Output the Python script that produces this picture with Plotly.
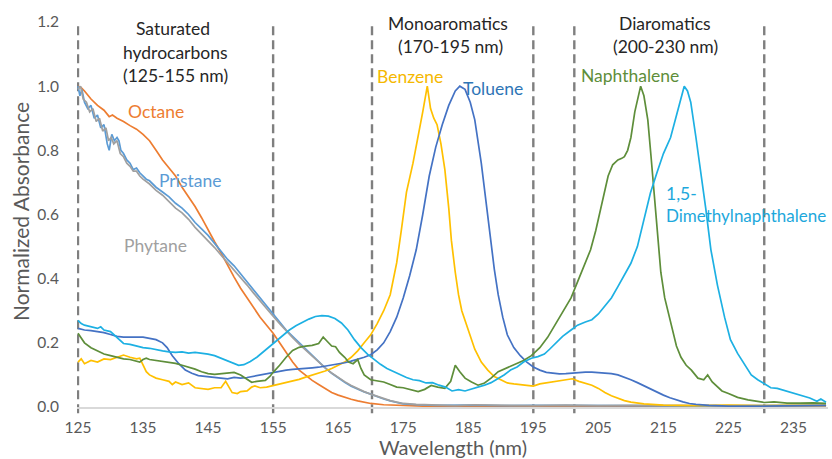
import plotly.graph_objects as go

# ---------------- data ----------------
octane_x = [125,125.5,126,127,128,129,129.8,130.3,131,132,133,134,135,136,137,138,139,140,141,142,143,144,145,146,147,148,149,150,151,152,153,154,155,156,157,158,159,160,161,162,163,164,165,166,167,168,169,170,172,174,176,178,180,185,190,200,210,220,230,240]
octane_y = [1.0,0.995,0.985,0.96,0.94,0.925,0.905,0.91,0.9,0.89,0.877,0.866,0.85,0.83,0.80,0.77,0.745,0.72,0.685,0.655,0.625,0.59,0.55,0.515,0.48,0.44,0.405,0.37,0.34,0.31,0.28,0.255,0.23,0.2,0.17,0.14,0.115,0.098,0.083,0.07,0.058,0.045,0.037,0.03,0.024,0.019,0.014,0.011,0.007,0.005,0.004,0.003,0.002,0.002,0.001,0.001,0.0,0.0,0.0,0.0]

pristane_x = [125,125.3,125.6,126,126.5,127,127.5,128,128.5,129,129.5,129.8,130.2,130.6,131,131.3,131.6,132,132.5,133,133.5,134,134.5,135,135.5,136,137,138,139,140,141,142,143,144,145,146,147,148,149,150,151,152,153,154,155,156,157,158,159,160,161,162,163,164,165,166,167,168,169,170,171,172,173,174,175,177,180,185,190,195,200,205,210,220,230,240]
pristane_y = [1.0,0.97,0.99,0.95,0.93,0.94,0.90,0.91,0.87,0.88,0.82,0.80,0.85,0.83,0.84,0.83,0.80,0.79,0.77,0.76,0.74,0.745,0.73,0.72,0.71,0.705,0.685,0.67,0.655,0.635,0.62,0.60,0.575,0.555,0.535,0.51,0.485,0.46,0.44,0.415,0.39,0.365,0.34,0.315,0.29,0.265,0.24,0.22,0.2,0.18,0.16,0.14,0.122,0.105,0.09,0.077,0.065,0.055,0.047,0.04,0.032,0.025,0.019,0.014,0.01,0.007,0.005,0.006,0.004,0.005,0.004,0.005,0.004,0.003,0.004,0.005]

phytane_x = [125,125.4,125.8,126.3,126.8,127.3,127.8,128.3,128.8,129.3,129.7,130.1,130.5,131,131.5,132,132.5,133,133.5,134,134.5,135,136,137,138,139,140,141,142,143,144,145,146,147,148,149,150,151,152,153,154,155,156,157,158,159,160,161,162,163,164,165,166,167,168,169,170,171,172,173,174,175,177,180,183,186,190,195,200,205,210,220,230,240]
phytane_y = [0.99,1.0,0.96,0.95,0.92,0.93,0.89,0.90,0.86,0.87,0.83,0.84,0.82,0.83,0.79,0.78,0.76,0.75,0.735,0.735,0.72,0.71,0.695,0.675,0.66,0.64,0.62,0.605,0.585,0.56,0.54,0.52,0.497,0.473,0.45,0.428,0.405,0.38,0.355,0.33,0.307,0.283,0.26,0.237,0.216,0.196,0.177,0.158,0.14,0.122,0.106,0.092,0.079,0.067,0.057,0.048,0.04,0.033,0.026,0.02,0.015,0.011,0.008,0.006,0.004,0.007,0.005,0.004,0.006,0.004,0.005,0.004,0.003,0.004]

benzene_x = [125,125.5,126,127,128,129,130,131,132,133,134,134.5,135,135.5,136,137,138,139,139.5,140,141,142,143,144,145,146,147,147.7,148.2,148.7,149.5,150,151,151.7,152.2,153,154,155,156,157,158,159,160,161,162,163,164,165,166,167,168,169,170,171,172,173,174,174.7,175.5,176.5,177.3,178,178.7,179.2,179.7,180.2,180.8,181.4,182,182.4,183,183.5,184,185,186,187,188,189,190,191,192,193,194,195,196,197,198,199,200,201,202,203,204,205,206,207,208,209,210,212,215,220,225,230,235,240]
benzene_y = [0.14,0.15,0.135,0.145,0.14,0.15,0.148,0.155,0.162,0.155,0.15,0.152,0.13,0.11,0.1,0.09,0.085,0.08,0.07,0.078,0.07,0.075,0.06,0.058,0.055,0.06,0.06,0.08,0.06,0.045,0.042,0.048,0.05,0.062,0.066,0.06,0.062,0.067,0.07,0.075,0.08,0.086,0.093,0.099,0.105,0.112,0.12,0.13,0.14,0.155,0.175,0.2,0.225,0.26,0.3,0.35,0.45,0.55,0.67,0.76,0.84,0.92,1.0,0.93,0.9,0.88,0.82,0.74,0.62,0.52,0.42,0.35,0.3,0.24,0.18,0.14,0.115,0.095,0.085,0.075,0.072,0.07,0.068,0.065,0.072,0.075,0.078,0.08,0.085,0.088,0.08,0.075,0.068,0.058,0.045,0.035,0.027,0.02,0.015,0.01,0.006,0.004,0.006,0.004,0.005,0.005]

toluene_x = [125,126,127,128,129,130,131,132,133,134,135,136,137,138,138.7,139.5,140.5,141.5,142.5,143.5,145,146,147,148,149,150,151,152,153,154,155,156,157,158,159,160,161,162,163,164,165,166,167,168,169,170,171,172,173,174,175,176,177,178,179,180,181,182,183,183.7,184.5,185.3,186,187,187.8,188.5,189,189.6,190.3,191,192,193,194,195,196,197,198,199,200,201,202,203,204,205,206,207,208,209,210,211,212,213,214,215,216,217,218,219,220,222,225,230,235,240]
toluene_y = [0.245,0.24,0.238,0.235,0.232,0.226,0.22,0.218,0.217,0.218,0.218,0.215,0.21,0.2,0.185,0.16,0.135,0.115,0.105,0.098,0.095,0.093,0.09,0.088,0.092,0.09,0.092,0.096,0.1,0.104,0.108,0.112,0.115,0.117,0.118,0.12,0.122,0.124,0.127,0.13,0.134,0.138,0.143,0.148,0.155,0.163,0.178,0.2,0.235,0.28,0.34,0.41,0.49,0.6,0.72,0.81,0.88,0.94,0.985,1.0,0.99,0.95,0.895,0.76,0.62,0.51,0.43,0.35,0.28,0.225,0.185,0.16,0.14,0.125,0.115,0.108,0.105,0.103,0.104,0.106,0.108,0.109,0.109,0.108,0.107,0.104,0.1,0.093,0.085,0.076,0.066,0.056,0.046,0.037,0.029,0.022,0.016,0.011,0.008,0.005,0.003,0.003,0.004,0.005]

naph_x = [125,125.5,126,127,128,129,130,131,132,133,134,134.5,135,135.5,136,137,138,139,140,141,142,143,144,145,146,147,148,149,150,151,151.7,152.5,153.8,154.5,155,156,157,158,159,160,161,162,162.7,163.3,164,164.6,165.2,166,166.6,167.3,168,168.5,169,170,171,172,173,174,175,176,177.3,178.3,179.3,180.3,181.4,182.3,183,183.7,184.5,185.5,186.5,187.5,188.5,189.6,190.5,191.5,192.6,193.5,194.7,196,197.2,198.5,199.7,200.8,202,202.9,203.8,204.6,205.5,206.5,207.2,208,208.6,209,209.5,210,210.6,211.5,212,212.6,213.1,213.6,214.1,214.6,215.2,216.2,217,217.7,218.5,219.3,220.3,221.2,221.8,222.5,223.3,224,225,226.4,228,229.5,230.5,232,234,236,238,240]
naph_y = [0.23,0.215,0.2,0.185,0.175,0.165,0.16,0.155,0.15,0.148,0.142,0.14,0.148,0.152,0.148,0.145,0.142,0.14,0.136,0.13,0.125,0.118,0.11,0.104,0.102,0.104,0.107,0.108,0.1,0.088,0.077,0.08,0.083,0.095,0.108,0.13,0.155,0.176,0.186,0.19,0.192,0.198,0.218,0.205,0.19,0.188,0.17,0.155,0.14,0.135,0.148,0.12,0.1,0.085,0.082,0.078,0.07,0.062,0.06,0.055,0.048,0.055,0.067,0.062,0.058,0.08,0.13,0.11,0.09,0.078,0.068,0.075,0.09,0.11,0.118,0.125,0.135,0.145,0.16,0.185,0.217,0.26,0.3,0.34,0.4,0.448,0.49,0.55,0.63,0.72,0.755,0.77,0.775,0.78,0.8,0.84,0.92,1.0,0.97,0.895,0.78,0.655,0.52,0.42,0.34,0.26,0.19,0.155,0.13,0.115,0.09,0.085,0.1,0.078,0.062,0.05,0.042,0.03,0.022,0.017,0.014,0.016,0.012,0.012,0.013,0.011]

dmn_x = [125,125.5,126,127,128,128.5,129,130,130.5,131,132,133,134,135,136,137,138,139,140,141,142,143,144,145,146,147,148,149,149.7,150.5,151.5,152.5,153.5,154.5,155.5,156.5,157.5,158.5,159.5,160.5,161.5,162.5,163.5,164.5,165.5,166.5,167.5,168.5,169.5,170.5,171.5,172.5,173.5,174.5,175.5,176.5,177.5,178.5,179.5,180.5,181.5,182.5,183.5,184.5,185.5,186.5,187.5,188.5,189.5,190.5,191.5,192.5,193.5,194.7,195.7,196.7,197.5,198.5,199.5,200.8,201.8,203,204,205,206,207,208,209,210,211,212,213,214,215,216.1,217,217.7,218.2,218.7,219.2,220,220.7,221.5,222.3,223.3,224.4,225.3,226.4,227.5,228.5,229.5,230.5,231.5,232.5,233.5,234.5,235.6,236.5,237.5,238.6,239.2,240]
dmn_y = [0.27,0.26,0.255,0.25,0.245,0.25,0.24,0.235,0.225,0.215,0.198,0.195,0.19,0.185,0.183,0.178,0.175,0.172,0.17,0.172,0.168,0.17,0.168,0.165,0.16,0.152,0.143,0.135,0.13,0.132,0.142,0.155,0.172,0.19,0.207,0.225,0.24,0.253,0.264,0.274,0.282,0.285,0.283,0.276,0.262,0.24,0.21,0.185,0.165,0.148,0.133,0.12,0.11,0.1,0.092,0.085,0.082,0.075,0.076,0.068,0.062,0.05,0.054,0.05,0.056,0.06,0.068,0.076,0.088,0.1,0.115,0.125,0.14,0.152,0.157,0.165,0.18,0.2,0.22,0.24,0.255,0.265,0.272,0.29,0.315,0.34,0.375,0.41,0.448,0.5,0.58,0.667,0.73,0.79,0.84,0.91,0.97,1.0,0.985,0.95,0.84,0.74,0.62,0.49,0.38,0.28,0.21,0.167,0.13,0.1,0.085,0.072,0.06,0.058,0.052,0.048,0.04,0.036,0.028,0.018,0.025,0.015]

series = [
    ("Octane", octane_x, octane_y, "#ED7D31"),
    ("Pristane", pristane_x, pristane_y, "#5B9BD5"),
    ("Phytane", phytane_x, phytane_y, "#A0A0A0"),
    ("Benzene", benzene_x, benzene_y, "#FFC000"),
    ("Toluene", toluene_x, toluene_y, "#4472C4"),
    ("Naphthalene", naph_x, naph_y, "#5E8E3A"),
    ("1,5-Dimethylnaphthalene", dmn_x, dmn_y, "#1DB0E3"),
]

region_bounds = [125, 155, 170.2, 195, 201.3, 230.5]
x_ticks = [125, 135, 145, 155, 165, 175, 185, 195, 205, 215, 225, 235]
y_ticks = [0.0, 0.2, 0.4, 0.6, 0.8, 1.0, 1.2]

FONT = "Lato"
TXT = "#262626"
AX = "#595959"

fig = go.Figure()
for name, xs, ys, col in series:
    fig.add_trace(go.Scatter(x=xs, y=ys, mode="lines", name=name,
                             line=dict(color=col, width=1.7), hoverinfo="skip"))

for b in region_bounds:
    fig.add_shape(type="line", xref="x", yref="paper", x0=b, x1=b, y0=-0.016, y1=1.0,
                  line=dict(color="#7F7F7F", width=2.4, dash="9px,5px"), layer="below")

# pixel helper: plot area spans x 77..828, y 22..407
L, R, T, B = 77, 828, 22, 407
def px(xp): return (xp - L) / (R - L)
def py(yp): return (B - yp) / (B - T)

def ann(text, x, y, color=TXT, size=17.5, xanchor="center", angle=0):
    fig.add_annotation(text=text, xref="paper", yref="paper",
                       x=px(x), y=py(y), showarrow=False, xanchor=xanchor, yanchor="middle",
                       textangle=angle,
                       font=dict(family=FONT, size=size, color=color))

ann("Saturated", 173, 28)
ann("hydrocarbons", 175, 52)
ann("(125-155 nm)", 175, 75)
ann("Monoaromatics", 448, 23)
ann("(170-195 nm)", 450, 46)
ann("Diaromatics", 665, 23)
ann("(200-230 nm)", 665, 46)

ann("Octane", 156, 112, "#ED7D31")
ann("Pristane", 190, 180, "#5B9BD5")
ann("Phytane", 155, 245, "#A0A0A0")
ann("Benzene", 410, 76, "#F5B800")
ann("Toluene", 493, 89, "#2E75B6")
ann("Naphthalene", 630, 75, "#5E8E3A")
ann("1,5-", 664, 193, "#1DA8DC", xanchor="left")
ann("Dimethylnaphthalene", 664, 215, "#1DA8DC", xanchor="left", size=17)

# axis titles
ann("Wavelength (nm)", 453, 447, AX, size=20)
ann("Normalized Absorbance", 20, 212, AX, size=21, angle=-90)

fig.update_layout(
    width=832, height=459,
    margin=dict(l=L, r=832 - R, t=T, b=459 - B),
    paper_bgcolor="white", plot_bgcolor="white",
    showlegend=False,
    font=dict(family=FONT, color=AX, size=15),
    xaxis=dict(range=[124.85, 240.3], tickmode="array", tickvals=x_ticks,
               ticktext=[str(v) for v in x_ticks], automargin=False,
               showgrid=False, zeroline=False, showline=True,
               linecolor="#D9D9D9", linewidth=1.5, ticks="",
               tickfont=dict(family=FONT, size=15.5, color=AX),
               ticklabelstandoff=6),
    yaxis=dict(range=[0, 1.2], tickmode="array", tickvals=y_ticks,
               ticktext=[f"{v:.1f}" for v in y_ticks], automargin=False,
               showgrid=False, zeroline=False, showline=False, ticks="",
               tickfont=dict(family=FONT, size=15.5, color=AX),
               ticklabelstandoff=17),
)

fig.write_html("out.html", config={"displayModeBar": False},
               post_script="document.body.style.margin='0px';document.body.style.overflow='hidden';")
